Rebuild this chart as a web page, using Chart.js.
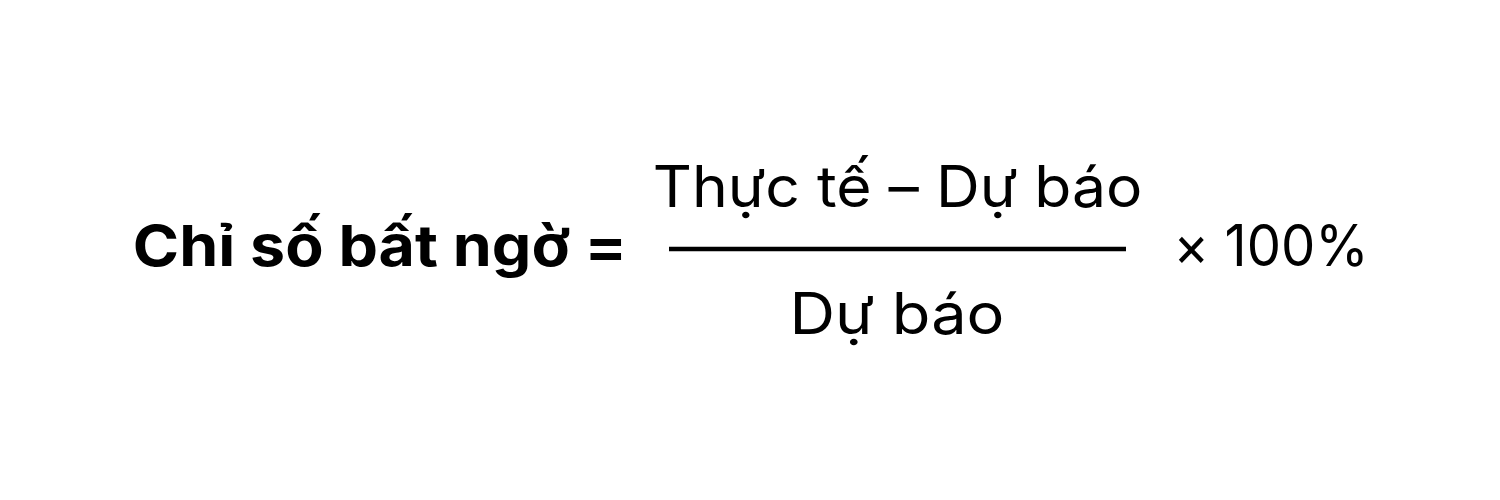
<!DOCTYPE html>
<html>
<head>
<meta charset="utf-8">
<script src="https://cdn.jsdelivr.net/npm/chart.js@4.4.1/dist/chart.umd.min.js"></script>
<style>
  html, body { margin: 0; padding: 0; background: #fff; }
  #formula { display: block; }
</style>
</head>
<body>
<canvas id="formula" width="1500" height="500"></canvas>
<script>
// formula pieces
const terms = ["Chỉ số bất ngờ =", "Thực tế – Dự báo", "Dự báo", "× 100%"];
const termWeights = ["bold", "normal", "normal", "normal"];
// where each term sits (left, right, baseline) in page units
const termLeft = [135, 655, 795, 1178];
const termRight = [622, 1140, 1002, 1363];
const termBaseline = [266, 207, 334, 266];
// fraction bar
const barX = [669, 1126];
const barY = [249, 249];

const fontFamily = "Inter, 'DejaVu Sans', sans-serif";
const fontSize = 57;

const textPlugin = {
  id: "formulaText",
  afterDatasetsDraw(chart) {
    const c = chart.ctx;
    const xs = chart.scales.x;
    const ys = chart.scales.y;
    c.save();
    c.fillStyle = "#000";
    c.textBaseline = "alphabetic";
    c.textAlign = "left";
    for (let i = 0; i < terms.length; i++) {
      c.font = termWeights[i] + " " + fontSize + "px " + fontFamily;
      const left = xs.getPixelForValue(termLeft[i]);
      const right = xs.getPixelForValue(termRight[i]);
      const base = ys.getPixelForValue(termBaseline[i]);
      const m = c.measureText(terms[i]);
      const inkW = m.actualBoundingBoxLeft + m.actualBoundingBoxRight;
      const sx = (right - left) / inkW;
      c.save();
      c.translate(left, base);
      c.scale(sx, 1);
      c.fillText(terms[i], m.actualBoundingBoxLeft, 0);
      c.restore();
    }
    c.restore();
  },
};

const ctx = document.getElementById("formula").getContext("2d");
const chart = new Chart(ctx, {
  type: "scatter",
  data: {
    datasets: [
      {
        data: barX.map((x, i) => ({ x: x, y: barY[i] })),
        showLine: true,
        borderColor: "#000",
        borderWidth: 4.5,
        pointRadius: 0,
        borderCapStyle: "butt",
      },
    ],
  },
  options: {
    responsive: false,
    animation: false,
    devicePixelRatio: 1,
    layout: { padding: 0 },
    plugins: { legend: { display: false }, tooltip: { enabled: false } },
    scales: {
      x: { type: "linear", min: 0, max: 1500, display: false },
      y: { type: "linear", min: 0, max: 500, reverse: true, display: false },
    },
  },
  plugins: [textPlugin],
});
</script>
</body>
</html>
